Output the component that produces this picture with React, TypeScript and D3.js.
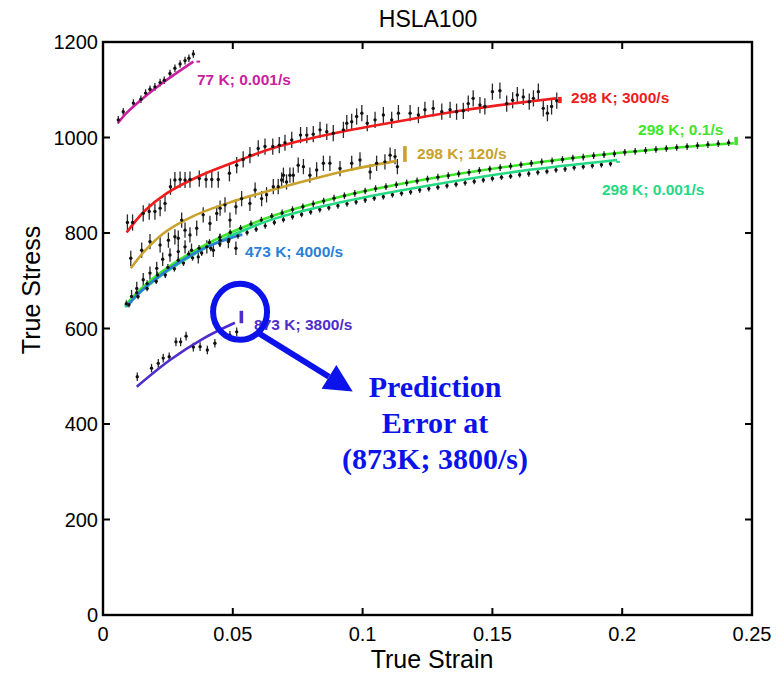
import React, { useRef, useEffect } from 'react';
import * as d3 from 'd3';

// axis ticks
const xTicks = [0, 0.05, 0.1, 0.15, 0.2, 0.25];
const yTicks = [0, 200, 400, 600, 800, 1000, 1200];

// fitted model curves [strain, stress]
const fit77k = [[0.0057, 1030], [0.009, 1051], [0.0136, 1074], [0.0226, 1113], [0.0348, 1159]];
const fit3000 = [[0.0091, 801], [0.016, 846], [0.0245, 883], [0.0374, 920], [0.0528, 953], [0.0669, 980], [0.09, 1010], [0.113, 1033], [0.1388, 1057], [0.159, 1072], [0.1745, 1082]];
const fit120 = [[0.0107, 726], [0.016, 762], [0.024, 802], [0.035, 836], [0.05, 866], [0.065, 890], [0.08, 912], [0.095, 932], [0.1131, 951]];
const fit01 = [[0.0085, 648], [0.015, 685], [0.025, 728], [0.041, 780], [0.065, 835], [0.093, 878], [0.125, 913], [0.161, 943], [0.201, 969], [0.243, 988]];
const fit0001 = [[0.0085, 645], [0.015, 679], [0.025, 721], [0.041, 773], [0.065, 828], [0.093, 866], [0.125, 899], [0.161, 930], [0.198, 953]];
const fit4000 = [[0.0091, 646], [0.015, 680], [0.022, 711], [0.03, 741], [0.04, 771], [0.0528, 796]];
const fit3800 = [[0.013, 478], [0.0258, 534], [0.0386, 579], [0.0508, 612]];

// measured points [strain, stress]
const pts77k = [[0.0059, 1037], [0.0078, 1054], [0.0117, 1072], [0.0146, 1080], [0.0164, 1093], [0.0181, 1101], [0.02, 1106], [0.022, 1115], [0.0236, 1120], [0.0258, 1134], [0.0277, 1145], [0.0297, 1154], [0.0316, 1161], [0.0331, 1166], [0.0348, 1175]];
const pts3000 = [[0.0094, 822], [0.0114, 822], [0.0155, 841], [0.0178, 845], [0.02, 845], [0.022, 852], [0.0239, 862], [0.026, 897], [0.0277, 911], [0.0297, 912], [0.0316, 911], [0.0335, 912], [0.0371, 914], [0.0397, 912], [0.0419, 912], [0.0444, 912], [0.0487, 925], [0.0515, 942], [0.054, 954], [0.0566, 963], [0.0598, 977], [0.0624, 981], [0.0654, 981], [0.0679, 984], [0.0701, 989], [0.0727, 995], [0.0761, 1005], [0.0785, 1005], [0.081, 1007], [0.0836, 1016], [0.0862, 1012], [0.0887, 1009], [0.0926, 1016], [0.0939, 1030], [0.0958, 1033], [0.0977, 1044], [0.0997, 1051], [0.1018, 1030], [0.1048, 1037], [0.108, 1047], [0.1112, 1037], [0.1138, 1051], [0.1183, 1051], [0.1215, 1047], [0.124, 1058], [0.1272, 1061], [0.1305, 1054], [0.1337, 1058], [0.1362, 1054], [0.1388, 1056], [0.1407, 1071], [0.1426, 1082], [0.1452, 1068], [0.1471, 1065], [0.15, 1096], [0.1529, 1098], [0.1555, 1071], [0.1578, 1078], [0.1596, 1089], [0.1619, 1085], [0.1642, 1075], [0.1658, 1082], [0.1677, 1096], [0.1696, 1061], [0.1712, 1051], [0.1728, 1065], [0.1748, 1077]];
const pts120 = [[0.0107, 747], [0.0149, 764], [0.0181, 782], [0.022, 775], [0.0252, 785], [0.0277, 792], [0.029, 789], [0.0303, 827], [0.0316, 806], [0.0335, 796], [0.0361, 810], [0.0386, 838], [0.0412, 820], [0.0438, 841], [0.0451, 852], [0.047, 859], [0.0489, 827], [0.0512, 855], [0.0534, 872], [0.0566, 862], [0.0586, 890], [0.0611, 872], [0.063, 880], [0.0656, 897], [0.0675, 897], [0.0688, 911], [0.0695, 921], [0.0707, 907], [0.072, 921], [0.0733, 921], [0.0752, 942], [0.0772, 939], [0.0797, 921], [0.0823, 932], [0.0849, 946], [0.0874, 946], [0.0913, 935], [0.0958, 946], [0.099, 953], [0.1029, 928], [0.1054, 946], [0.1086, 949], [0.1106, 963], [0.1125, 960], [0.1134, 939]];
const pts01 = [[0.009, 652], [0.013, 675], [0.017, 694], [0.021, 712], [0.025, 728], [0.029, 743], [0.033, 756], [0.037, 768], [0.041, 780], [0.045, 791], [0.049, 801], [0.053, 810], [0.057, 819], [0.061, 827], [0.065, 835], [0.069, 842], [0.073, 849], [0.077, 855], [0.081, 861], [0.085, 867], [0.089, 873], [0.093, 878], [0.097, 883], [0.101, 888], [0.105, 893], [0.109, 897], [0.113, 901], [0.117, 905], [0.121, 909], [0.125, 913], [0.129, 917], [0.133, 920], [0.137, 924], [0.141, 927], [0.145, 931], [0.149, 934], [0.153, 937], [0.157, 940], [0.161, 943], [0.165, 946], [0.169, 949], [0.173, 951], [0.177, 954], [0.181, 957], [0.185, 959], [0.189, 962], [0.193, 964], [0.197, 966], [0.201, 969], [0.205, 971], [0.209, 973], [0.213, 975], [0.217, 977], [0.221, 979], [0.225, 981], [0.229, 983], [0.233, 985], [0.237, 987], [0.241, 989]];
const pts0001 = [[0.01, 650], [0.0135, 667], [0.017, 684], [0.0205, 699], [0.024, 712], [0.0275, 725], [0.031, 737], [0.0345, 748], [0.038, 758], [0.0415, 768], [0.045, 777], [0.0485, 786], [0.052, 794], [0.0555, 801], [0.059, 808], [0.0625, 815], [0.066, 822], [0.0695, 828], [0.073, 834], [0.0765, 839], [0.08, 844], [0.0835, 849], [0.087, 853], [0.0905, 857], [0.094, 861], [0.0975, 865], [0.101, 869], [0.1045, 873], [0.108, 876], [0.1115, 880], [0.115, 883], [0.1185, 886], [0.122, 890], [0.1255, 893], [0.129, 896], [0.1325, 899], [0.136, 902], [0.1395, 905], [0.143, 908], [0.1465, 911], [0.15, 914], [0.1535, 917], [0.157, 919], [0.1605, 922], [0.164, 924], [0.1675, 927], [0.171, 929], [0.1745, 932], [0.178, 934], [0.1815, 937], [0.185, 939], [0.1885, 941], [0.192, 943], [0.1955, 945]];
const pts4000 = [[0.011, 667], [0.013, 684], [0.0155, 702], [0.0181, 716], [0.0207, 726], [0.023, 745], [0.0258, 754], [0.029, 761], [0.0316, 771], [0.0341, 764], [0.0367, 750], [0.04, 771], [0.0425, 764], [0.0451, 785], [0.0483, 782], [0.0512, 768]];
const pts3800 = [[0.0132, 499], [0.0187, 517], [0.0213, 527], [0.0232, 538], [0.0255, 541], [0.0281, 572], [0.0299, 572], [0.032, 584], [0.0348, 561], [0.0374, 562], [0.0402, 555], [0.0431, 569], [0.0489, 586], [0.0515, 593]];

// error half-widths (MPa) of measured points
const errs = [8, 17, 16, 7, 6, 14, 9];

// prediction error bars at curve ends [strain, low, high]
const predBars = [[0.0367, 1158, 1161], [0.176, 1072, 1085], [0.1163, 949, 982], [0.2439, 984, 1001], [0.1984, 947, 951], [0.053, 793, 799], [0.0533, 611, 637]];

const labels = ['77 K; 0.001/s', '298 K; 3000/s', '298 K; 120/s', '298 K; 0.1/s', '298 K; 0.001/s', '473 K; 4000/s', '873 K; 3800/s'];
const labelPos = [[0.0362, 1110], [0.1803, 1072], [0.121, 955], [0.2061, 1005], [0.1922, 880], [0.0547, 750], [0.0582, 597]];
const colors = ['#c81fa0', '#ee1c1c', '#c9a12b', '#3ee62a', '#25d884', '#2b7fd6', '#4f2ccc'];

const fits = [fit77k, fit3000, fit120, fit01, fit0001, fit4000, fit3800];
const points = [pts77k, pts3000, pts120, pts01, pts0001, pts4000, pts3800];

// annotation anchors in data units
const circleAt = [0.0528, 635];
const arrowFrom = [0.0597, 591];
const arrowTo = [0.0962, 468];
const noteLines = ['Prediction', 'Error at', '(873K; 3800/s)'];
const noteAt = [0.1279, 457];

const W = 784, H = 677;
const sans = '"Liberation Sans", Arial, Helvetica, sans-serif';

export default function App() {
  const ref = useRef<SVGSVGElement>(null);

  useEffect(() => {
    const svg = d3.select(ref.current);
    svg.selectAll('*').remove();

    const x = d3.scaleLinear().domain([0, 0.25]).range([103, 752]);
    const y = d3.scaleLinear().domain([0, 1200]).range([615, 42]);

    const g = svg.append('g');

    // error bars
    points.forEach((pts, i) => {
      g.append('g').selectAll('line').data(pts).join('line')
        .attr('x1', d => x(d[0])).attr('x2', d => x(d[0]))
        .attr('y1', d => y(d[1] - errs[i])).attr('y2', d => y(d[1] + errs[i]))
        .attr('stroke', '#2a2a2a').attr('stroke-width', 1.3);
    });

    // fitted curves
    const line = d3.line<number[]>().x(d => x(d[0])).y(d => y(d[1])).curve(d3.curveCatmullRom.alpha(0.5));
    fits.forEach((f, i) => {
      g.append('path').attr('d', line(f)).attr('fill', 'none')
        .attr('stroke', colors[i]).attr('stroke-width', 2.6);
    });

    // point markers
    points.forEach(pts => {
      g.append('g').selectAll('circle').data(pts).join('circle')
        .attr('cx', d => x(d[0])).attr('cy', d => y(d[1])).attr('r', 1.7)
        .attr('fill', '#111');
    });

    // prediction bars
    g.append('g').selectAll('rect').data(predBars).join('rect')
      .attr('x', d => x(d[0]) - 1.8).attr('width', 3.6)
      .attr('y', d => y(d[2])).attr('height', d => Math.max(2, y(d[1]) - y(d[2])))
      .attr('fill', (d, i) => colors[i]);

    // series labels
    g.append('g').selectAll('text').data(labels).join('text')
      .attr('x', (d, i) => x(labelPos[i][0])).attr('y', (d, i) => y(labelPos[i][1]))
      .attr('fill', (d, i) => colors[i])
      .attr('font-family', sans).attr('font-weight', 'bold').attr('font-size', 15.5)
      .text(d => d);

    // frame and ticks
    svg.append('rect').attr('x', 103).attr('y', 42).attr('width', 649).attr('height', 573)
      .attr('fill', 'none').attr('stroke', '#000').attr('stroke-width', 2.4);
    const tk = svg.append('g').attr('stroke', '#000').attr('stroke-width', 2);
    xTicks.forEach(t => {
      tk.append('line').attr('x1', x(t)).attr('x2', x(t)).attr('y1', 615).attr('y2', 608);
      tk.append('line').attr('x1', x(t)).attr('x2', x(t)).attr('y1', 42).attr('y2', 49);
    });
    yTicks.forEach(t => {
      tk.append('line').attr('x1', 103).attr('x2', 110).attr('y1', y(t)).attr('y2', y(t));
      tk.append('line').attr('x1', 752).attr('x2', 745).attr('y1', y(t)).attr('y2', y(t));
    });
    svg.append('g').selectAll('text').data(xTicks).join('text')
      .attr('x', d => x(d)).attr('y', 641).attr('text-anchor', 'middle')
      .attr('font-family', sans).attr('font-size', 20)
      .text(d => String(d));
    svg.append('g').selectAll('text').data(yTicks).join('text')
      .attr('x', 98).attr('y', d => y(d) + 7).attr('text-anchor', 'end')
      .attr('font-family', sans).attr('font-size', 20)
      .text(d => String(d));

    svg.append('text').attr('x', 428).attr('y', 27).attr('text-anchor', 'middle')
      .attr('font-family', sans).attr('font-size', 23).text('HSLA100');
    svg.append('text').attr('x', 432).attr('y', 668).attr('text-anchor', 'middle')
      .attr('font-family', sans).attr('font-size', 25).text('True Strain');
    svg.append('text').attr('transform', 'translate(40,290) rotate(-90)').attr('text-anchor', 'middle')
      .attr('font-family', sans).attr('font-size', 25).text('True Stress');

    // annotation
    const blue = '#0c12ea';
    svg.append('ellipse').attr('cx', x(circleAt[0])).attr('cy', y(circleAt[1]))
      .attr('rx', 27).attr('ry', 28).attr('fill', 'none').attr('stroke', blue).attr('stroke-width', 6);
    const x0 = x(arrowFrom[0]), y0 = y(arrowFrom[1]), x1 = x(arrowTo[0]), y1 = y(arrowTo[1]);
    const ang = Math.atan2(y1 - y0, x1 - x0);
    const hl = 28, hw = 14;
    const bx = x1 - hl * Math.cos(ang), by = y1 - hl * Math.sin(ang);
    svg.append('line').attr('x1', x0).attr('y1', y0).attr('x2', bx).attr('y2', by)
      .attr('stroke', blue).attr('stroke-width', 6);
    svg.append('path')
      .attr('d', `M${x1},${y1}L${bx - hw * Math.sin(ang)},${by + hw * Math.cos(ang)}L${bx + hw * Math.sin(ang)},${by - hw * Math.cos(ang)}Z`)
      .attr('fill', blue);
    svg.append('g').selectAll('text').data(noteLines).join('text')
      .attr('x', x(noteAt[0])).attr('y', (d, i) => y(noteAt[1]) + i * 36)
      .attr('text-anchor', 'middle').attr('fill', blue)
      .attr('font-family', '"Liberation Serif", "Times New Roman", serif')
      .attr('font-weight', 'bold').attr('font-size', 30)
      .text(d => d);
  }, []);

  return (
    <div style={{ position: 'absolute', left: 0, top: 0 }}>
      <svg ref={ref} width={W} height={H} style={{ background: '#fff', display: 'block' }} />
    </div>
  );
}
